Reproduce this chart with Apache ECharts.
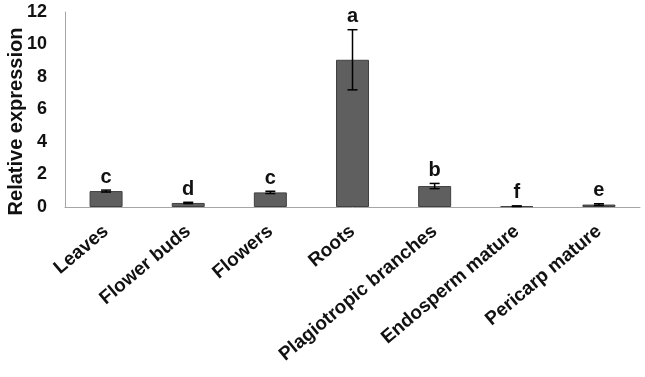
<!DOCTYPE html>
<html>
<head>
<meta charset="utf-8">
<script src="https://cdn.jsdelivr.net/npm/echarts@6/dist/echarts.min.js"></script>
<style>
html,body{margin:0;padding:0;background:#fff;}
#chart{width:645px;height:377px;}
</style>
</head>
<body>
<div id="chart"></div>
<script>
var categories = ['Leaves', 'Flower buds', 'Flowers', 'Roots', 'Plagiotropic branches', 'Endosperm mature', 'Pericarp mature'];
var values = [0.98, 0.25, 0.9, 9.06, 1.29, 0.05, 0.15];
var errors = [0.06, 0.04, 0.07, 1.85, 0.16, 0.02, 0.05];
var letters = ['c', 'd', 'c', 'a', 'b', 'f', 'e'];
var yTicks = [0, 2, 4, 6, 8, 10, 12];

var FONT = '"Liberation Sans", Arial, sans-serif';
var chart = echarts.init(document.getElementById('chart'), null, {renderer: 'canvas'});

var errData = categories.map(function (c, i) {
  return [i, values[i], errors[i], letters[i]];
});

chart.setOption({
  animation: false,
  backgroundColor: '#ffffff',
  grid: {left: 65, right: 5, top: 12, bottom: 170, containLabel: false, outerBoundsMode: 'none'},
  xAxis: {
    type: 'category',
    data: categories,
    axisLine: {show: true, lineStyle: {color: '#a6a6a6', width: 1}},
    axisTick: {show: false},
    axisLabel: {
      rotate: 40,
      interval: 0,
      margin: 22,
      fontFamily: FONT,
      fontWeight: 'bold',
      fontSize: 19,
      color: '#111111'
    }
  },
  yAxis: {
    type: 'value',
    min: yTicks[0],
    max: yTicks[yTicks.length - 1],
    interval: 2,
    name: 'Relative expression',
    nameLocation: 'middle',
    nameGap: 39,
    nameMoveOverlap: false,
    nameTextStyle: {fontFamily: FONT, fontWeight: 'bold', fontSize: 20, color: '#111111', padding: [0, 24, 0, 0]},
    axisLine: {show: true, lineStyle: {color: '#a6a6a6', width: 1}},
    axisTick: {show: false},
    splitLine: {show: false},
    axisLabel: {
      margin: 18,
      fontFamily: FONT,
      fontWeight: 'bold',
      fontSize: 18,
      color: '#111111'
    }
  },
  series: [
    {
      type: 'bar',
      data: values,
      barWidth: 33,
      itemStyle: {color: '#5f5f5f', borderColor: '#404040', borderWidth: 1}
    },
    {
      type: 'custom',
      data: errData,
      z: 10,
      renderItem: function (params, api) {
        var i = api.value(0);
        var v = api.value(1);
        var e = api.value(2);
        var top = api.coord([i, v + e]);
        var bot = api.coord([i, v - e]);
        var x = top[0];
        var half = 5;
        var lineStyle = {stroke: '#000000', lineWidth: 1.5};
        return {
          type: 'group',
          children: [
            {type: 'line', shape: {x1: x, y1: top[1], x2: x, y2: bot[1]}, style: lineStyle},
            {type: 'line', shape: {x1: x - half, y1: top[1], x2: x + half, y2: top[1]}, style: lineStyle},
            {type: 'line', shape: {x1: x - half, y1: bot[1], x2: x + half, y2: bot[1]}, style: lineStyle},
            {
              type: 'text',
              style: {
                x: x,
                y: top[1] - 3,
                text: letters[params.dataIndex],
                textAlign: 'center',
                textVerticalAlign: 'bottom',
                font: 'bold 20px ' + FONT,
                fill: '#111111'
              }
            }
          ]
        };
      }
    }
  ]
});
</script>
</body>
</html>
